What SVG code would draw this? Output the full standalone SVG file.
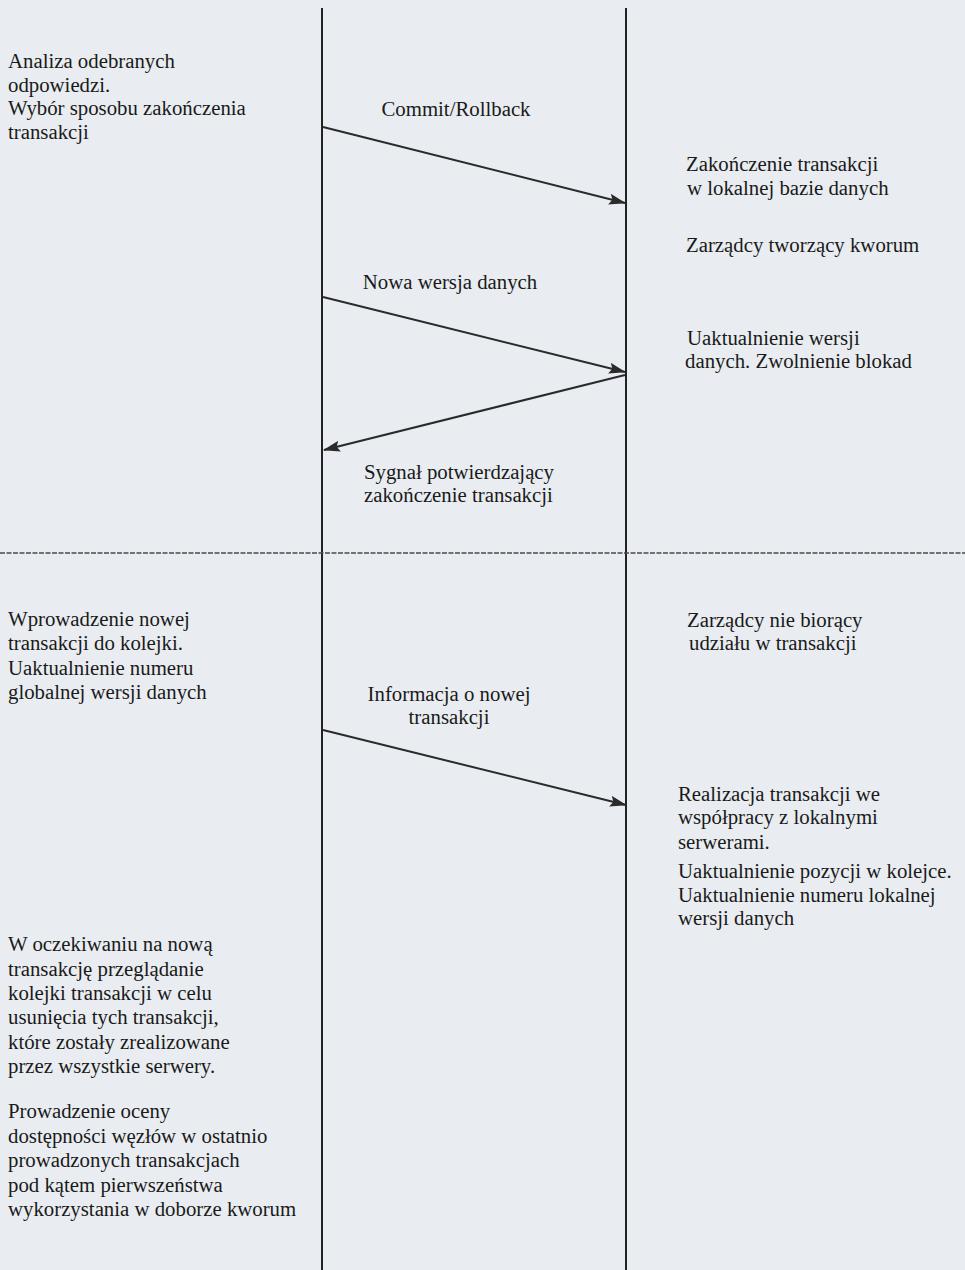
<svg xmlns="http://www.w3.org/2000/svg" width="965" height="1270" viewBox="0 0 965 1270">
  <style>
    .t { font-family: "Liberation Serif", "Times New Roman", serif; font-size: 20.8px; fill: #1a1a1a; }
    .m { text-anchor: middle; }
    .life { stroke: #222; stroke-width: 2; fill: none; }
    .msg { stroke: #2a2a2a; stroke-width: 2; fill: none; marker-end: url(#ah); }
    .sep { stroke: #4a4a4a; stroke-width: 1.4; stroke-dasharray: 5 1.5; fill: none; }
  </style>
  <defs>
    <marker id="ah" viewBox="0 0 17 11" refX="16" refY="5.5" markerWidth="17" markerHeight="11" markerUnits="userSpaceOnUse" orient="auto">
      <path d="M0,0 L17,5.5 L0,11 L3,5.5 Z" fill="#2a2a2a"/>
    </marker>
  </defs>
  <rect x="0" y="0" width="965" height="1270" fill="#e9edf1"/>

  <g id="lifelines">
    <line class="life" x1="322" y1="8" x2="322" y2="1270"/>
    <line class="life" x1="626" y1="8" x2="626" y2="1270"/>
  </g>

  <g id="separator">
    <line class="sep" x1="0" y1="553" x2="965" y2="553"/>
  </g>

  <g id="connectors">
    <line class="msg" x1="323" y1="127" x2="625" y2="203"/>
    <line class="msg" x1="323" y1="297" x2="625" y2="372"/>
    <line class="msg" x1="625" y1="375" x2="324" y2="450"/>
    <line class="msg" x1="323" y1="730" x2="626" y2="805"/>
  </g>

  <g id="n-analiza">
    <text class="t" x="8" y="68">Analiza odebranych</text>
    <text class="t" x="8" y="92">odpowiedzi.</text>
    <text class="t" x="8" y="115">Wybór sposobu zakończenia</text>
    <text class="t" x="8" y="139">transakcji</text>
  </g>

  <g id="l-commit">
    <text class="t m" x="456" y="116">Commit/Rollback</text>
  </g>

  <g id="n-zakonczenie">
    <text class="t" x="686" y="171">Zakończenie transakcji</text>
    <text class="t" x="687" y="195">w lokalnej bazie danych</text>
  </g>

  <g id="n-kworum">
    <text class="t" x="686" y="252">Zarządcy tworzący kworum</text>
  </g>

  <g id="l-nowa-wersja">
    <text class="t m" x="450" y="289">Nowa wersja danych</text>
  </g>

  <g id="n-uaktualnienie-wersji">
    <text class="t" x="687" y="345">Uaktualnienie wersji</text>
    <text class="t" x="685" y="368">danych. Zwolnienie blokad</text>
  </g>

  <g id="l-sygnal">
    <text class="t" x="364" y="479">Sygnał potwierdzający</text>
    <text class="t" x="364" y="502">zakończenie transakcji</text>
  </g>

  <g id="n-wprowadzenie">
    <text class="t" x="8" y="626">Wprowadzenie nowej</text>
    <text class="t" x="8" y="650">transakcji do kolejki.</text>
    <text class="t" x="8" y="675">Uaktualnienie numeru</text>
    <text class="t" x="8" y="699">globalnej wersji danych</text>
  </g>

  <g id="n-nie-biorace">
    <text class="t" x="687" y="627">Zarządcy nie biorący</text>
    <text class="t" x="689" y="650">udziału w transakcji</text>
  </g>

  <g id="l-informacja">
    <text class="t m" x="449" y="701">Informacja o nowej</text>
    <text class="t m" x="449" y="724">transakcji</text>
  </g>

  <g id="n-realizacja">
    <text class="t" x="678" y="801">Realizacja transakcji we</text>
    <text class="t" x="678" y="824">współpracy z lokalnymi</text>
    <text class="t" x="678" y="849">serwerami.</text>
    <text class="t" x="678" y="878">Uaktualnienie pozycji w kolejce.</text>
    <text class="t" x="678" y="902">Uaktualnienie numeru lokalnej</text>
    <text class="t" x="678" y="925">wersji danych</text>
  </g>

  <g id="n-oczekiwanie">
    <text class="t" x="8" y="951">W oczekiwaniu na nową</text>
    <text class="t" x="8" y="976">transakcję przeglądanie</text>
    <text class="t" x="8" y="1000">kolejki transakcji w celu</text>
    <text class="t" x="8" y="1024">usunięcia tych transakcji,</text>
    <text class="t" x="8" y="1049">które zostały zrealizowane</text>
    <text class="t" x="8" y="1073">przez wszystkie serwery.</text>
  </g>

  <g id="n-ocena">
    <text class="t" x="8" y="1118">Prowadzenie oceny</text>
    <text class="t" x="8" y="1143">dostępności węzłów w ostatnio</text>
    <text class="t" x="8" y="1167">prowadzonych transakcjach</text>
    <text class="t" x="8" y="1192">pod kątem pierwszeństwa</text>
    <text class="t" x="8" y="1216">wykorzystania w doborze kworum</text>
  </g>
</svg>
